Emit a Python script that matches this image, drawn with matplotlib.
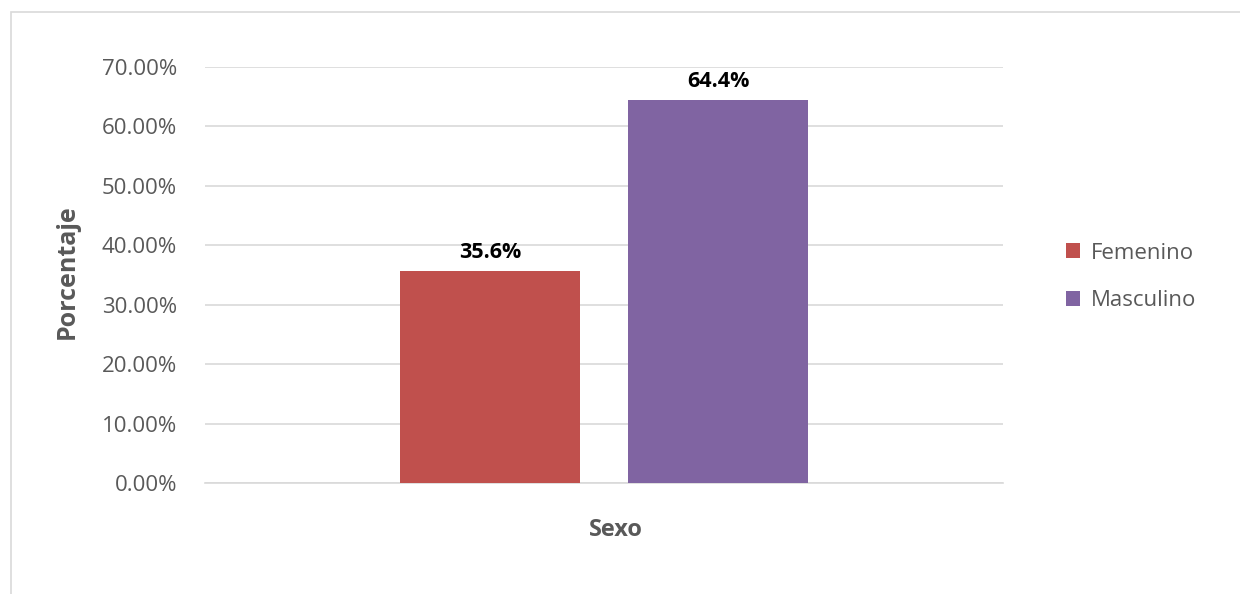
import matplotlib.pyplot as plt
from matplotlib.patches import Rectangle
from matplotlib.ticker import FuncFormatter

plt.rcParams['font.family'] = ['Open Sans', 'DejaVu Sans']

# datos
categorias = ['Femenino', 'Masculino']
valores = [35.6, 64.4]
colores = ['#C0504D', '#8064A2']
etiquetas = ['35.6%', '64.4%']

fig = plt.figure(figsize=(12.4, 5.94), dpi=100)
ax = fig.add_axes([205 / 1240, 111 / 594, 798 / 1240, 416 / 594])

# borde gris del area del grafico
fig.patches.append(Rectangle((11 / 1240, -0.1), 1.2, 1.1 - 12 / 594,
                             transform=fig.transFigure, fill=False,
                             edgecolor='#D9D9D9', linewidth=1.2))

for i, (cat, v, c) in enumerate(zip(categorias, valores, colores)):
    b = ax.bar(i, v, width=0.79, color=c, label=cat, zorder=3)
    ax.bar_label(b, labels=[etiquetas[i]], padding=6, fontsize=15.5,
                 fontweight='bold', color='black')

ax.set_xlim(-1.25, 2.25)
ax.set_ylim(0, 70)
ax.set_yticks(range(0, 71, 10))
ax.yaxis.set_major_formatter(FuncFormatter(lambda y, _: f'{y:.2f}%'))
ax.set_xticks([])
ax.grid(axis='y', color='#D9D9D9', linewidth=1.2, zorder=0)
for s in ['top', 'right', 'left']:
    ax.spines[s].set_visible(False)
ax.spines['bottom'].set_color('#D9D9D9')
ax.spines['bottom'].set_linewidth(1.2)
ax.tick_params(axis='y', length=0, pad=20, labelsize=16, labelcolor='#595959')

fig.text(67 / 1240, 1 - 272 / 594, 'Porcentaje', rotation=90, ha='center',
         va='center', fontsize=18, fontweight='bold', color='#595959')
fig.text(616 / 1240, 1 - 530 / 594, 'Sexo', ha='center', va='center',
         fontsize=17, fontweight='bold', color='#595959')

leg = ax.legend(loc='center left', bbox_to_anchor=(1046 / 1240, 1 - 277 / 594),
                bbox_transform=fig.transFigure, frameon=False, fontsize=16,
                handlelength=0.65, handleheight=0.65, handletextpad=0.45,
                labelspacing=1.2)
for t in leg.get_texts():
    t.set_color('#595959')

fig.savefig('out.png', dpi=100)
